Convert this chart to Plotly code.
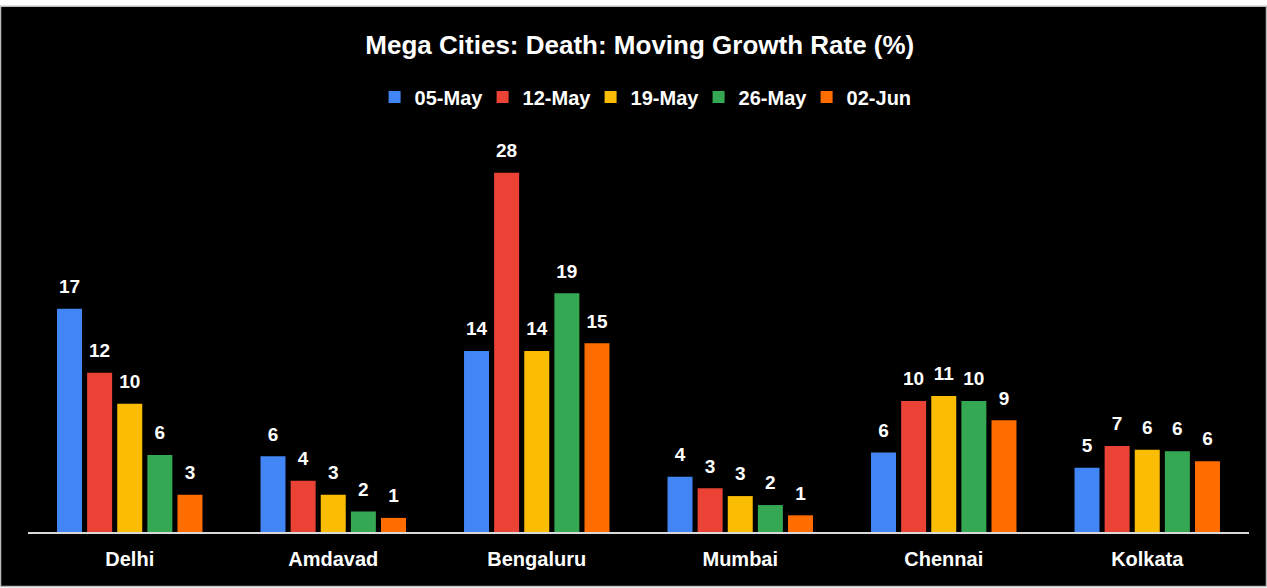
import plotly.graph_objects as go

cities = ["Delhi", "Amdavad", "Bengaluru", "Mumbai", "Chennai", "Kolkata"]
weeks = ["05-May", "12-May", "19-May", "26-May", "02-Jun"]
colors = ["#4285F4", "#EA4335", "#FBBC04", "#34A853", "#FF6D01"]

# growth rate (%) per week, one list per city order above
may05 = [17.4, 5.9, 14.1, 4.3, 6.2, 5.0]
may12 = [12.4, 4.0, 28.0, 3.4, 10.2, 6.7]
may19 = [10.0, 2.9, 14.1, 2.8, 10.6, 6.4]
may26 = [6.0, 1.6, 18.6, 2.1, 10.2, 6.3]
jun02 = [2.9, 1.1, 14.7, 1.3, 8.7, 5.52]
series = [may05, may12, may19, may26, jun02]

FONT = "Liberation Sans, Arial"
W, H = 1267, 588
# plot area in pixels
PX_L, PX_R, PX_T, PX_B = 28, 1249, 147, 532.5
BARGAP = 0.26


def px_x(p):
    return (p - PX_L) / (PX_R - PX_L)


def px_y(p):
    return (PX_B - p) / (PX_B - PX_T)


fig = go.Figure()

for name, vals, col in zip(weeks, series, colors):
    fig.add_trace(go.Bar(
        x=cities, y=vals, name=f"<b>{name}</b>",
        marker=dict(color=col, line=dict(width=0)),
        hovertemplate="%{x}: %{y:.1f}%<extra>" + name + "</extra>",
    ))

# value labels sit a bit above each bar, like the original
for name, vals in zip(weeks, series):
    fig.add_trace(go.Scatter(
        x=cities, y=vals, mode="markers+text",
        text=[f"<b>{v:.0f}</b>" for v in vals],
        textposition="top center",
        textfont=dict(family=FONT, size=19, color="white"),
        marker=dict(size=16, color="rgba(0,0,0,0)"),
        showlegend=False, hoverinfo="skip", cliponaxis=False,
    ))

# black card with thin grey frame, white strip above it
fig.add_shape(
    type="rect", xref="paper", yref="paper", layer="below",
    x0=px_x(0.5), x1=px_x(W - 0.5), y0=px_y(H - 1), y1=px_y(6),
    fillcolor="black", line=dict(color="#bdbdbd", width=1.5),
)

fig.update_layout(
    title=dict(
        text="<b>Mega Cities: Death: Moving Growth Rate (%)</b>",
        x=0.505, xanchor="center", y=1 - 45 / H, yanchor="middle",
        font=dict(family=FONT, size=26, color="white"),
    ),
    legend=dict(
        orientation="h", x=0.505, xanchor="center",
        y=px_y(97), yanchor="middle",
        font=dict(family=FONT, size=20, color="white"),
        bgcolor="rgba(0,0,0,0)", entrywidth=63,
        traceorder="normal",
    ),
    barmode="group",
    bargap=BARGAP,
    bargroupgap=0.17,
    scattermode="group",
    scattergap=BARGAP,
    xaxis=dict(
        showline=True, linecolor="#d9d9d9", linewidth=2,
        tickfont=dict(family=FONT, size=20, color="white"),
        tickprefix="<b>", ticksuffix="</b>",
        ticks="", showgrid=False, ticklabelstandoff=8,
    ),
    yaxis=dict(range=[0, 30], visible=False, showgrid=False, zeroline=False),
    font=dict(family=FONT, color="white"),
    paper_bgcolor="white",
    plot_bgcolor="black",
    margin=dict(l=PX_L, r=W - PX_R, t=PX_T, b=H - PX_B),
    width=W, height=H,
)

fig.write_html(
    "out.html",
    config={"displayModeBar": False},
    post_script="document.body.style.margin='0';",
)
